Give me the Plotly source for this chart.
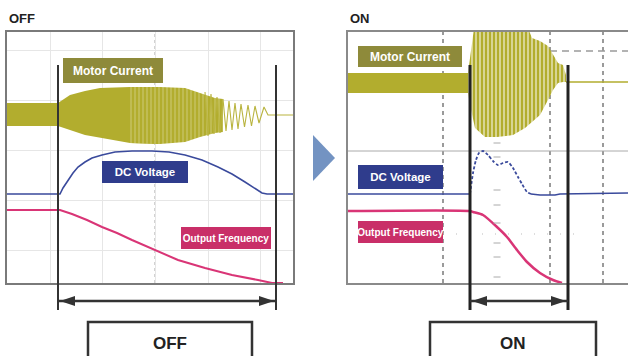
import plotly.graph_objects as go

W, H = 628, 356

# ---------------- data (time in ms, level in screen units: 0 = bottom, 251 = top) ----------------
# OFF panel - motor current envelope (dense part) and the resolved decaying tail
off_env_t = [0, 510, 630, 780, 930, 1230, 1530, 1780, 1930, 2080, 2160]
off_cur_hi = [180, 180, 188, 192, 195, 196, 196, 195, 190, 185, 184]
off_cur_lo = [157, 157, 153, 148, 145, 140, 139, 141, 146, 150, 151]
off_tail_t = [1980, 2010, 2040, 2070, 2100, 2130, 2160, 2190, 2220, 2250, 2280, 2310,
              2340, 2375, 2410, 2445, 2480, 2520, 2570, 2610, 2860]
off_tail_v = [191, 147, 189, 149, 186, 150, 184, 152, 182, 153, 180, 154,
              179, 156, 178, 157, 177, 160, 176, 168, 168]
off_dc_t = [0, 530, 560, 610, 660, 710, 780, 850, 950, 1080, 1250, 1450, 1620, 1780, 1950, 2110,
            2250, 2380, 2470, 2550, 2600, 2860]
off_dc_v = [89, 89, 95, 103, 110, 116, 121, 125, 128, 131, 132, 132, 131, 128, 123, 116,
            109, 101, 95, 90, 89, 89]
off_freq_t = [0, 530, 650, 800, 950, 1100, 1250, 1480, 1710, 1980, 2250, 2510, 2650, 2760]
off_freq_v = [73, 73, 69, 63, 56, 50, 43, 33, 23, 15, 8, 3, 0, 0]
off_window = [510, 2690]

# ON panel
on_env_t = [0, 1200, 1220, 1270, 1370, 1490, 1650, 1770, 1840, 1920, 2000, 2050, 2100, 2150, 2180]
on_cur_hi = [210, 210, 223, 262, 262, 262, 262, 262, 245, 242, 237, 228, 220, 218, 208]
on_cur_lo = [190, 190, 178, 155, 146, 146, 148, 155, 161, 168, 183, 193, 200, 201, 201]
on_after_t = [2180, 2200, 2800]
on_after_v = [201, 201, 201]
on_dc_flat_t = [0, 1220, None, 1830, 1920, 2070, 2120, 2800]
on_dc_flat_v = [89, 89, None, 89, 88, 88, 89, 90]
on_dc_spike_t = [1220, 1250, 1280, 1310, 1350, 1400, 1450, 1500, 1550, 1600, 1650, 1700, 1740, 1790, 1830]
on_dc_spike_v = [89, 110, 123, 130, 132, 128, 122, 118, 120, 121, 115, 106, 99, 91, 89]
on_freq_t = [0, 1220, 1250, 1350, 1490, 1590, 1690, 1790, 1920, 2050, 2140]
on_freq_v = [72, 72, 71, 68, 56, 46, 33, 21, 10, 3, 0]
on_window = [1220, 2200]

# scope graticule
off_grid_t = [430, 950, 1480, 2010, 2530]
off_grid_v = [33, 83, 133, 183, 233]
on_grid_t = [950, 2020, 2550]
on_minor_ticks_v = [140, 126, 93, 78, 60, 40, 26, 6]

labels = ["Motor Current", "DC Voltage", "Output Frequency"]
titles = ["OFF", "ON"]

# ---------------- styling ----------------
C_CUR = "#B2AD2E"
C_CUR_LIGHT = "#D6D38A"
C_CUR_LBL = "#8E8A3A"
C_DC = "#3A4A9C"
C_DC_LBL = "#2F3C8C"
C_FQ = "#D93576"
C_FQ_LBL = "#C92F68"
FONT = "Liberation Sans Narrow, Liberation Sans, Arial, sans-serif"


def px(x):
    return x / W


def py(y):
    return 1 - y / H


def split(ts, a, b, lo, hi):
    idx = [i for i, t in enumerate(ts) if lo <= t <= hi]
    return [ts[i] for i in idx], [a[i] for i in idx], [b[i] for i in idx]


fig = go.Figure()
common = dict(mode="lines", hoverinfo="skip", showlegend=False)

# OFF panel: solid part of the current band, then striped part (dense oscillation)
t1, h1, l1 = split(off_env_t, off_cur_hi, off_cur_lo, 0, 1530)
fig.add_trace(go.Scatter(x=t1 + t1[::-1], y=h1 + l1[::-1], fill="toself", fillcolor=C_CUR,
                         line=dict(width=0, color=C_CUR), xaxis="x", yaxis="y", **common))
t2, h2, l2 = split(off_env_t, off_cur_hi, off_cur_lo, 1230, 2160)
fig.add_trace(go.Scatter(x=t2 + t2[::-1], y=h2 + l2[::-1], fill="toself", fillcolor=C_CUR_LIGHT,
                         fillpattern=dict(shape="|", size=4, solidity=0.8, fgcolor=C_CUR,
                                          bgcolor=C_CUR_LIGHT, fillmode="replace"),
                         line=dict(width=0, color=C_CUR), xaxis="x", yaxis="y", **common))
fig.add_trace(go.Scatter(x=off_tail_t, y=off_tail_v, line=dict(width=1.1, color="#B9B43F"),
                         xaxis="x", yaxis="y", **common))
fig.add_trace(go.Scatter(x=off_dc_t, y=off_dc_v, line=dict(width=1.6, color=C_DC),
                         xaxis="x", yaxis="y", **common))
fig.add_trace(go.Scatter(x=off_freq_t, y=off_freq_v, line=dict(width=2, color=C_FQ),
                         xaxis="x", yaxis="y", **common))

# ON panel traces
t3, h3, l3 = split(on_env_t, on_cur_hi, on_cur_lo, 0, 1200)
fig.add_trace(go.Scatter(x=t3 + t3[::-1], y=h3 + l3[::-1], fill="toself", fillcolor=C_CUR,
                         line=dict(width=0, color=C_CUR), xaxis="x2", yaxis="y2", **common))
t4, h4, l4 = split(on_env_t, on_cur_hi, on_cur_lo, 1200, 2180)
fig.add_trace(go.Scatter(x=t4 + t4[::-1], y=h4 + l4[::-1], fill="toself", fillcolor="#F3F2DC",
                         fillpattern=dict(shape="|", size=4, solidity=0.72, fgcolor=C_CUR,
                                          bgcolor="#F6F5E4", fillmode="replace"),
                         line=dict(width=0, color=C_CUR), xaxis="x2", yaxis="y2", **common))
fig.add_trace(go.Scatter(x=on_after_t, y=on_after_v, line=dict(width=1.5, color=C_CUR),
                         xaxis="x2", yaxis="y2", **common))
fig.add_trace(go.Scatter(x=on_dc_flat_t, y=on_dc_flat_v, line=dict(width=1.5, color=C_DC),
                         xaxis="x2", yaxis="y2", connectgaps=False, **common))
fig.add_trace(go.Scatter(x=on_dc_spike_t, y=on_dc_spike_v,
                         line=dict(width=1.8, color=C_DC, dash="3px,2px", shape="spline", smoothing=0.6),
                         xaxis="x2", yaxis="y2", **common))
fig.add_trace(go.Scatter(x=on_freq_t, y=on_freq_v,
                         line=dict(width=2.5, color=C_FQ, shape="spline", smoothing=0.6),
                         xaxis="x2", yaxis="y2", **common))
fig.add_trace(go.Scatter(x=[1490] * len(on_minor_ticks_v), y=on_minor_ticks_v, mode="markers",
                         marker=dict(symbol="line-ew", size=5, line=dict(width=1, color="#AAAAAA")),
                         hoverinfo="skip", showlegend=False, xaxis="x2", yaxis="y2"))

ydom = [py(283), py(32)]
axis_common = dict(showticklabels=False, ticks="", zeroline=False, fixedrange=True)
fig.update_layout(
    width=W, height=H, autosize=False,
    margin=dict(l=0, r=0, t=0, b=0, pad=0),
    paper_bgcolor="white", plot_bgcolor="white",
    xaxis=dict(domain=[px(7), px(293)], range=[0, 2860], showgrid=True, tickvals=off_grid_t,
               gridcolor="#E6E6E6", gridwidth=1, showline=True, mirror=True,
               linecolor="#7A7A7A", linewidth=1.5, anchor="y", **axis_common),
    yaxis=dict(domain=ydom, range=[0, 251], showgrid=True, tickvals=off_grid_v,
               gridcolor="#E6E6E6", gridwidth=1, showline=True, mirror=True,
               linecolor="#7A7A7A", linewidth=1.5, anchor="x", **axis_common),
    xaxis2=dict(domain=[px(348), 1], range=[0, 2800], showgrid=False, showline=True, mirror=True,
                linecolor="#8A8A8A", linewidth=1.5, anchor="y2", **axis_common),
    yaxis2=dict(domain=ydom, range=[0, 251], showgrid=False, showline=True, mirror=False,
                linecolor="#8A8A8A", linewidth=1.5, anchor="x2", **axis_common),
)

shapes = []
shapes.append(dict(type="line", xref="x", yref="y domain", x0=off_grid_t[2], x1=off_grid_t[2],
                   y0=0, y1=1, line=dict(color="#C4C4C4", width=1.5, dash="dot"), layer="below"))
for t in on_grid_t:
    shapes.append(dict(type="line", xref="x2", yref="y2 domain", x0=t, x1=t, y0=0, y1=1,
                       line=dict(color="#9A9A9A", width=2, dash="4px,4px"), layer="below"))
shapes.append(dict(type="line", xref="x2 domain", yref="y2", x0=0, x1=1, y0=132, y1=132,
                   line=dict(color="#AAAAAA", width=1), layer="below"))
shapes.append(dict(type="line", xref="x2", yref="y2", x0=2020, x1=2800, y0=232, y1=232,
                   line=dict(color="#9A9A9A", width=1.5, dash="7px,5px"), layer="below"))
shapes.append(dict(type="line", xref="x2", yref="y2", x0=950, x1=2350, y0=49, y1=49,
                   line=dict(color="#BBBBBB", width=1, dash="1px,12px"), layer="below"))

arrow_y = py(301)
for xr, win, lw, col in [("x", off_window, 2, "#333333"), ("x2", on_window, 3, "#222222")]:
    for t in win:
        shapes.append(dict(type="line", xref=xr, yref="paper", x0=t, x1=t, y0=py(310), y1=py(65),
                           line=dict(color=col, width=lw), layer="above"))
    shapes.append(dict(type="line", xref=xr, yref="paper", x0=win[0], x1=win[1], y0=arrow_y, y1=arrow_y,
                       line=dict(color="#333333", width=2.5), layer="above"))
    shapes.append(dict(type="path", xref=xr, yref="paper", xsizemode="pixel", ysizemode="pixel",
                       xanchor=win[0], yanchor=arrow_y, path="M 2 0 L 17 5 L 17 -5 Z",
                       fillcolor="#333333", line=dict(width=0), layer="above"))
    shapes.append(dict(type="path", xref=xr, yref="paper", xsizemode="pixel", ysizemode="pixel",
                       xanchor=win[1], yanchor=arrow_y, path="M -2 0 L -17 5 L -17 -5 Z",
                       fillcolor="#333333", line=dict(width=0), layer="above"))

for x0, x1 in [(88, 252), (430, 596)]:
    shapes.append(dict(type="rect", xref="paper", yref="paper", x0=px(x0), x1=px(x1),
                       y0=py(366), y1=py(322), line=dict(color="#333333", width=2.5),
                       fillcolor="white", layer="above"))

shapes.append(dict(type="path", xref="paper", yref="paper",
                   path=f"M {px(313)} {py(135)} L {px(335)} {py(158)} L {px(313)} {py(181)} Z",
                   fillcolor="#7393C2", line=dict(width=0)))

fig.update_layout(shapes=shapes)

ann = []
for text, x, y, anchor, size in [(titles[0], 7, 19, "left", 13), (titles[1], 348, 19, "left", 13),
                                 (titles[0], 170, 343, "center", 17), (titles[1], 513, 343, "center", 17)]:
    ann.append(dict(text=f"<b>{text}</b>", x=px(x), y=py(y), xref="paper", yref="paper",
                    xanchor=anchor, yanchor="middle", showarrow=False,
                    font=dict(family="Liberation Sans, Arial", size=size, color="#222")))

lbl = [
    (labels[0], 63, 58, 100, 25, C_CUR_LBL, 12),
    (labels[1], 102, 161, 86, 22, C_DC_LBL, 11.5),
    (labels[2], 181, 227, 90, 22, C_FQ_LBL, 10),
    (labels[0], 358, 46, 104, 21, C_CUR_LBL, 12),
    (labels[1], 358, 165, 85, 24, C_DC_LBL, 11.5),
    (labels[2], 358, 221, 85, 22, C_FQ_LBL, 10),
]
for text, l, t, w, h, bg, fs in lbl:
    ann.append(dict(text=f"<b>{text}</b>", x=px(l), y=py(t), xref="paper", yref="paper",
                    xanchor="left", yanchor="top", width=w, height=h, showarrow=False,
                    bgcolor=bg, borderpad=0, borderwidth=0, align="center", valign="middle",
                    font=dict(family=FONT, size=fs, color="white")))
fig.update_layout(annotations=ann)

fig.write_html("out.html", config={"displayModeBar": False},
               post_script="document.body.style.margin='0';")
